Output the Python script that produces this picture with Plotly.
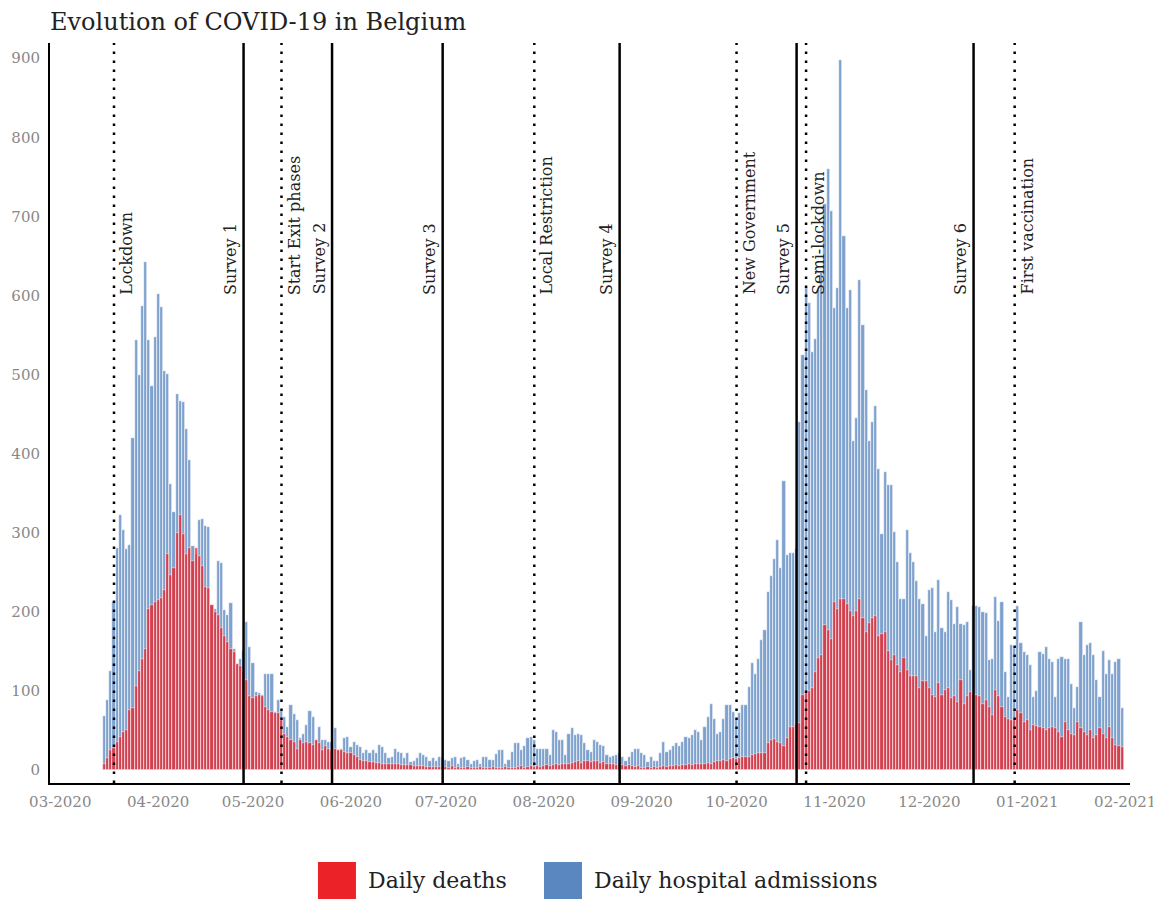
import pandas as pd
import plotly.graph_objects as go

# ---------------- data ----------------
start_date = "2020-03-15"
end_date = "2021-01-31"

hosp_mar = [68, 89, 125, 213, 281, 322, 303, 279, 285, 420, 544, 499, 587, 642, 544, 486, 548]
hosp_apr = [602, 585, 504, 501, 362, 326, 476, 467, 465, 431, 392, 283, 273, 316, 318, 309, 307, 209, 204, 264,
            262, 202, 196, 211, 153, 134, 140, 150, 187, 156]
hosp_may = [135, 99, 97, 95, 122, 122, 122, 74, 88, 75, 67, 55, 82, 71, 63, 40, 46, 57, 75, 67,
            38, 55, 38, 38, 36, 36, 53, 25, 27, 40, 42]
hosp_jun = [29, 36, 32, 29, 21, 25, 21, 25, 21, 32, 29, 21, 15, 17, 27, 23, 21, 15, 21, 10,
            12, 15, 21, 19, 17, 12, 15, 12, 17, 15]
hosp_jul = [13, 11, 15, 17, 8, 15, 17, 13, 8, 11, 13, 8, 17, 17, 13, 13, 20, 25, 25, 8,
            13, 23, 34, 34, 25, 30, 40, 42, 38, 27, 27]
hosp_aug = [27, 27, 19, 51, 48, 38, 38, 19, 46, 53, 44, 46, 44, 34, 25, 23, 38, 36, 32, 30,
            19, 17, 18, 19, 21, 17, 12, 17, 23, 27, 27]
hosp_sep = [21, 19, 10, 17, 11, 11, 21, 36, 23, 25, 30, 34, 30, 36, 42, 40, 44, 51, 48, 38,
            55, 67, 84, 65, 46, 48, 65, 82, 82, 74]
hosp_oct = [65, 72, 82, 82, 105, 135, 122, 141, 164, 177, 225, 245, 267, 291, 255, 365, 272, 274, 274, 280,
            440, 525, 610, 590, 528, 545, 607, 628, 716, 760, 707]
hosp_nov = [584, 610, 898, 675, 584, 607, 416, 445, 619, 563, 480, 416, 440, 460, 380, 298, 377, 360, 360, 301,
            263, 216, 216, 304, 275, 263, 239, 216, 210, 169]
hosp_dec = [227, 230, 175, 240, 180, 175, 225, 215, 185, 206, 185, 183, 187, 126, 208, 207, 206, 200, 198, 139,
            141, 219, 189, 213, 124, 92, 158, 154, 208, 160, 149]
hosp_jan = [145, 133, 92, 100, 149, 147, 156, 141, 137, 92, 141, 143, 141, 141, 109, 78, 105, 187, 145, 158,
            160, 145, 114, 92, 151, 122, 139, 122, 137, 140, 78]

death_mar = [8, 15, 25, 28, 35, 42, 48, 50, 76, 78, 106, 125, 140, 153, 204, 209, 213]
death_apr = [215, 217, 228, 273, 247, 256, 300, 322, 298, 273, 281, 264, 281, 270, 258, 232, 230, 209, 200, 196,
             179, 170, 162, 153, 149, 134, 132, 125, 114, 93]
death_may = [91, 93, 95, 93, 80, 76, 74, 72, 72, 63, 46, 42, 38, 36, 27, 38, 34, 36, 34, 32,
             38, 34, 25, 30, 27, 25, 27, 25, 25, 23, 21]
death_jun = [21, 19, 17, 13, 12, 11, 10, 10, 9, 9, 8, 8, 8, 7, 7, 7, 6, 6, 6, 6,
             5, 5, 5, 5, 4, 4, 4, 4, 4, 4]
death_jul = [4, 3, 5, 3, 4, 2, 3, 4, 3, 2, 3, 4, 2, 3, 3, 4, 2, 3, 3, 4,
             3, 2, 3, 4, 5, 3, 4, 5, 4, 5, 4]
death_aug = [5, 6, 5, 6, 7, 6, 8, 7, 8, 9, 10, 11, 9, 12, 11, 10, 12, 11, 9, 10,
             8, 7, 8, 6, 7, 6, 5, 6, 5, 4, 5]
death_sep = [3, 3, 4, 3, 4, 3, 4, 5, 4, 5, 5, 6, 5, 6, 6, 7, 6, 7, 8, 7,
             8, 9, 8, 10, 12, 12, 13, 12, 14, 15]
death_oct = [14, 15, 16, 17, 17, 19, 20, 21, 21, 22, 34, 38, 39, 36, 34, 30, 40, 55, 55, 58,
             60, 95, 98, 100, 104, 124, 142, 145, 183, 177, 166]
death_nov = [213, 204, 216, 216, 210, 201, 195, 201, 216, 192, 174, 186, 192, 195, 169, 172, 174, 151, 139, 145,
             133, 124, 142, 127, 119, 119, 119, 104, 113, 113]
death_dec = [104, 95, 92, 110, 95, 101, 104, 91, 93, 86, 114, 84, 93, 99, 97, 95, 93, 84, 88, 80,
             69, 101, 93, 80, 67, 65, 63, 63, 76, 72, 61]
death_jan = [63, 50, 57, 56, 55, 53, 51, 53, 55, 53, 48, 42, 61, 51, 46, 44, 61, 53, 48, 44,
             51, 40, 44, 53, 46, 40, 55, 40, 32, 30, 29]

survey_dates = ["2020-04-28", "2020-05-26", "2020-06-30", "2020-08-25", "2020-10-20", "2020-12-15"]
survey_labels = ["Survey 1", "Survey 2", "Survey 3", "Survey 4", "Survey 5", "Survey 6"]
event_dates = ["2020-03-18", "2020-05-10", "2020-07-29", "2020-10-01", "2020-10-23", "2020-12-28"]
event_labels = ["Lockdown", "Start Exit phases", "Local Restriction", "New Government",
                "Semi-lockdown", "First vaccination"]

title_text = "Evolution of COVID-19 in Belgium"
legend_labels = ["Daily deaths", "Daily hospital admissions"]

# ---------------- assemble ----------------
hosp = (hosp_mar + hosp_apr + hosp_may + hosp_jun + hosp_jul + hosp_aug + hosp_sep + hosp_oct
        + hosp_nov + hosp_dec + hosp_jan)
deaths = (death_mar + death_apr + death_may + death_jun + death_jul + death_aug + death_sep + death_oct
          + death_nov + death_dec + death_jan)
dates = pd.date_range(start_date, end_date, freq="D")

FONT = "DejaVu Serif"
RED = "#ec2229"
BLUE = "#5a87bf"

fig = go.Figure()
fig.add_trace(go.Bar(x=dates, y=hosp, name=legend_labels[1],
                     marker=dict(color=BLUE, line=dict(color="white", width=0.6)),
                     opacity=0.78, showlegend=False))
fig.add_trace(go.Bar(x=dates, y=deaths, name=legend_labels[0],
                     marker=dict(color=RED, line=dict(color="white", width=0.6)),
                     opacity=0.77, showlegend=False))

shapes = []
annotations = []
for d, lab in zip(survey_dates, survey_labels):
    shapes.append(dict(type="line", xref="x", yref="paper", x0=d, x1=d, y0=0, y1=1,
                       line=dict(color="black", width=2.5)))
    annotations.append(dict(x=d, y=0.657, xref="x", yref="paper", text=lab, textangle=-90,
                            showarrow=False, xanchor="right", yanchor="bottom", xshift=-1,
                            font=dict(family=FONT, size=16, color="#222")))
for d, lab in zip(event_dates, event_labels):
    shapes.append(dict(type="line", xref="x", yref="paper", x0=d, x1=d, y0=0, y1=1,
                       line=dict(color="black", width=2.5, dash="2.5px,6.5px")))
    annotations.append(dict(x=d, y=0.657, xref="x", yref="paper", text=lab, textangle=-90,
                            showarrow=False, xanchor="left", yanchor="bottom", xshift=1,
                            font=dict(family=FONT, size=16, color="#222")))

# custom legend (large square swatches)
leg_items = [(legend_labels[0], RED, 0.2481), (legend_labels[1], BLUE, 0.4574)]
for lab, col, x0 in leg_items:
    shapes.append(dict(type="rect", xref="paper", yref="paper", x0=x0, x1=x0 + 0.0352,
                       y0=-0.1568, y1=-0.1068, fillcolor=col, line=dict(width=0)))
    annotations.append(dict(x=x0 + 0.0352, y=-0.1324, xref="paper", yref="paper", text=lab,
                            showarrow=False, xanchor="left", yanchor="middle", xshift=10,
                            font=dict(family=FONT, size=22, color="#222")))

# the page body adds an 8px offset, so the figure is sized and placed to compensate
fig.update_layout(
    width=1153, height=891,
    margin=dict(l=42, r=31, t=35, b=116),
    paper_bgcolor="white", plot_bgcolor="white",
    barmode="overlay", bargap=0,
    title=dict(text=title_text, x=0.0364, xanchor="left", y=0.9843, yanchor="middle",
               font=dict(family=FONT, size=24, color="#222")),
    shapes=shapes, annotations=annotations,
    showlegend=False,
    font=dict(family=FONT),
)
fig.update_xaxes(type="date", range=["2020-02-26 18:00", "2021-02-02 12:00"],
                 tick0="2020-03-01", dtick="M1", tickformat="%m-%Y",
                 showgrid=False, zeroline=False, showline=True, linecolor="black", linewidth=2,
                 ticks="", ticklabelstandoff=4, automargin=False,
                 tickfont=dict(family=FONT, size=15, color="#888"))
fig.update_yaxes(range=[-16.4, 919.2], tickvals=list(range(0, 1000, 100)),
                 showgrid=False, zeroline=False, showline=True, linecolor="black", linewidth=2,
                 ticks="", ticklabelstandoff=5, automargin=False,
                 tickfont=dict(family=FONT, size=15, color="#888"))

fig.write_html("out.html")
